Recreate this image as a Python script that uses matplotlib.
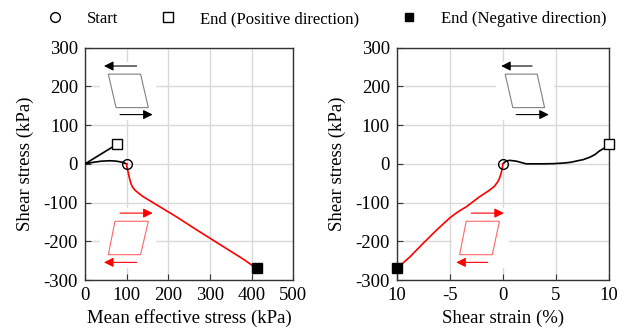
import matplotlib.pyplot as plt
from matplotlib.patches import Polygon, Rectangle

plt.rcParams['font.family'] = ['Liberation Serif', 'DejaVu Serif']
plt.rcParams['axes.unicode_minus'] = False

# stress path (mean effective stress p, shear stress q)
p_pos = [100, 90, 75, 60, 40, 20, 0, 76]
q_pos = [0, 4, 7, 8, 7, 4, 0, 50]
p_neg = [100, 101, 104, 107, 110, 114, 120, 130, 140, 160, 180, 220, 260, 300, 340, 380, 412]
q_neg = [0, -10, -24, -38, -50, -60, -68, -77, -85, -98, -111, -137, -165, -192, -219, -246, -270]

# stress-strain (shear strain %, shear stress)
g_pos = [0, 0.3, 0.63, 1.26, 2.2, 3.0, 3.8, 4.8, 5.7, 6.4, 6.9, 7.6, 8.2, 8.7, 9.1, 9.6, 10]
t_pos = [0, 7, 9, 7, 0, 0, 0, 0.5, 2, 4, 7, 11, 17, 24, 33, 41, 50]
g_neg = [0, -0.05, -0.16, -0.3, -0.47, -0.8, -1.26, -2.2, -3.46, -4.3, -5.03, -6.29, -7.55, -8.8, -10]
t_neg = [0, -10, -24, -36, -46, -58, -68, -85, -111, -125, -140, -172, -206, -241, -270]

strain_ticks = [-10, -5, 0, 5, 10]
strain_labels = ['10', '-5', '0', '5', '10']


def icon_background(ax, x0, y0, w, h):
    ax.add_patch(Rectangle((x0, y0), w, h, transform=ax.transAxes, facecolor='white',
                           edgecolor='none', zorder=1))


def draw_icon(ax, poly, arrow_top, arrow_bot, color, edge):
    ax.add_patch(Polygon(poly, closed=True, transform=ax.transAxes, facecolor='white',
                         edgecolor=edge, lw=0.8, zorder=2))
    for (x0, x1, y) in (arrow_top, arrow_bot):
        ax.annotate('', xy=(x1, y), xytext=(x0, y), xycoords='axes fraction',
                    arrowprops=dict(arrowstyle='-|>', color=color, lw=0.8,
                                    mutation_scale=14, shrinkA=0, shrinkB=0), zorder=3)


def style_axes(ax):
    ax.grid(True, color='#d9d9d9', lw=1.0, zorder=0)
    ax.set_axisbelow(True)
    ax.tick_params(direction='in', length=4, labelsize=13.5, color='#333333', pad=5)
    for s in ax.spines.values():
        s.set_color('#333333')
        s.set_linewidth(1.0)


fig = plt.figure(figsize=(6.27, 3.31), dpi=100)
ax1 = fig.add_axes([0.1356, 0.154, 0.332, 0.702])
ax2 = fig.add_axes([0.633, 0.154, 0.338, 0.702])

for ax in (ax1, ax2):
    style_axes(ax)
    ax.set_ylim(-300, 300)
    ax.set_yticks([-300, -200, -100, 0, 100, 200, 300])
    ax.set_ylabel('Shear stress (kPa)', fontsize=13.5, labelpad=7)

# left: stress path
ax1.plot(p_pos, q_pos, color='black', lw=1.2, zorder=4)
ax1.plot(p_neg, q_neg, color='red', lw=1.2, zorder=4)
ax1.plot(p_pos[0], q_pos[0], 'o', ms=7, mfc='none', mec='black', mew=1.0, zorder=5)
ax1.plot(p_pos[-1], q_pos[-1], 's', ms=7, mfc='white', mec='black', mew=1.0, zorder=5)
ax1.plot(p_neg[-1], q_neg[-1], 's', ms=7, mfc='black', mec='black', zorder=5)
ax1.set_xlim(0, 500)
ax1.set_xticks([0, 100, 200, 300, 400, 500])
ax1.set_xlabel('Mean effective stress (kPa)', fontsize=13.5, labelpad=4)

icon_background(ax1, 0.07, 0.69, 0.27, 0.25)
draw_icon(ax1, [(0.112, 0.886), (0.267, 0.886), (0.304, 0.742), (0.149, 0.742)],
          (0.248, 0.091, 0.921), (0.168, 0.325, 0.712), 'black', '#808080')
icon_background(ax1, 0.07, 0.05, 0.27, 0.26)
draw_icon(ax1, [(0.144, 0.253), (0.304, 0.253), (0.267, 0.109), (0.112, 0.109)],
          (0.168, 0.325, 0.288), (0.248, 0.091, 0.076), 'red', '#ff6666')

# right: stress-strain
ax2.plot(g_pos, t_pos, color='black', lw=1.2, zorder=4, clip_on=False)
ax2.plot(g_neg, t_neg, color='red', lw=1.2, zorder=4, clip_on=False)
ax2.plot(g_pos[0], t_pos[0], 'o', ms=7, mfc='none', mec='black', mew=1.0, zorder=5)
ax2.plot(g_pos[-1], t_pos[-1], 's', ms=7, mfc='white', mec='black', mew=1.0, zorder=5, clip_on=False)
ax2.plot(g_neg[-1], t_neg[-1], 's', ms=7, mfc='black', mec='black', zorder=5, clip_on=False)
ax2.set_xlim(-10, 10)
ax2.set_xticks(strain_ticks)
ax2.set_xticklabels(strain_labels)
ax2.set_xlabel('Shear strain (%)', fontsize=13.5, labelpad=4)

icon_background(ax2, 0.47, 0.69, 0.27, 0.25)
draw_icon(ax2, [(0.511, 0.886), (0.662, 0.886), (0.697, 0.742), (0.547, 0.742)],
          (0.638, 0.492, 0.921), (0.563, 0.717, 0.712), 'black', '#808080')
icon_background(ax2, 0.26, 0.05, 0.27, 0.26)
draw_icon(ax2, [(0.327, 0.253), (0.484, 0.253), (0.450, 0.109), (0.296, 0.109)],
          (0.351, 0.505, 0.288), (0.429, 0.280, 0.076), 'red', '#ff6666')

# legend on top
h1, = ax1.plot([], [], 'o', ms=7, mfc='none', mec='black', mew=1.0, ls='none')
h2, = ax1.plot([], [], 's', ms=7, mfc='none', mec='black', mew=1.0, ls='none')
h3, = ax1.plot([], [], 's', ms=6, mfc='black', mec='black', ls='none')
fig.legend([h1, h2, h3], ['Start', 'End (Positive direction)', 'End (Negative direction)'],
           loc='upper left', bbox_to_anchor=(0.061, 0.966), ncol=3, frameon=False,
           fontsize=12, handletextpad=0.92, columnspacing=2.0, borderpad=0,
           borderaxespad=0)

fig.savefig('out.png', dpi=100)
